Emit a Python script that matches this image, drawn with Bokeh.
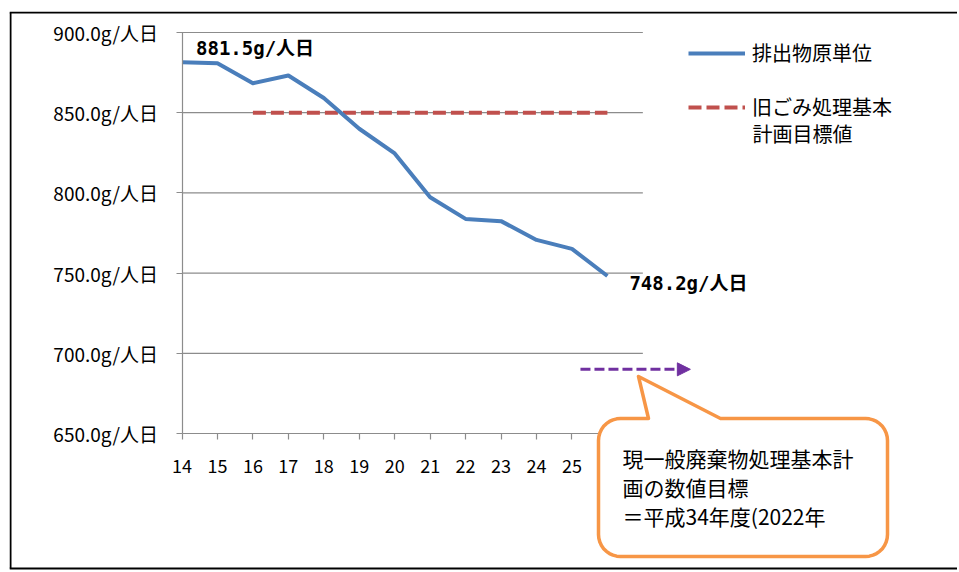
import numpy as np
from bokeh.plotting import figure
from bokeh.models import (Range1d, FixedTicker, Legend, LegendItem, Arrow, NormalHead, LinearAxis)
from bokeh.core.properties import value
from bokeh.embed import file_html
from bokeh.resources import INLINE

# ---------------- data ----------------
years = [14, 15, 16, 17, 18, 19, 20, 21, 22, 23, 24, 25, 26]
emission = [881.5, 880.9, 868.4, 873.2, 859.2, 840.0, 824.6, 797.3, 783.8, 782.4, 770.7, 765.1, 748.2]
target_years = [16, 26]
target_value = [850.0, 850.0]
x_ticks = [14, 15, 16, 17, 18, 19, 20, 21, 22, 23, 24, 25, 26, 27]
x_tick_labels = ["14", "15", "16", "17", "18", "19", "20", "21", "22", "23", "24", "25", "26", ""]
y_ticks = [650, 700, 750, 800, 850, 900]
y_tick_labels = ["650.0g/人日", "700.0g/人日", "750.0g/人日", "800.0g/人日", "850.0g/人日", "900.0g/人日"]
series_names = ["排出物原単位", "旧ごみ処理基本", "計画目標値"]
new_goal_value = 690.0
new_goal_years = [25.24, 28.34]
callout_lines = ["現一般廃棄物処理基本計", "画の数値目標", "＝平成34年度(2022年"]

# ---------------- geometry (page pixels) ----------------
OX, OY = 9, 11             # canvas origin on page (css margins)
W, H = 948, 559
KX = 35.45                 # px per year
KY = 80.2 / 50.0           # px per g
X0_PAGE = 181.5            # page x of year 14
Y900_PAGE = 32.0           # page y of 900

def dx(px):
    return 14 + (px - X0_PAGE) / KX

def dy(py):
    return 900 - (py - Y900_PAGE) / KY

FONT = "Noto Sans CJK JP"
GRID = "#8c8c8c"
BLUE = "#4a7ebb"
RED = "#c0504d"
PURPLE = "#7030a0"
ORANGE = "#f79646"

p = figure(width=W, height=H, output_backend="svg", toolbar_location=None,
           x_range=Range1d(dx(OX), dx(OX + W)), y_range=Range1d(dy(OY + H), dy(OY)),
           min_border=0, x_axis_location=None, y_axis_location=None,
           outline_line_color=None,
           styles={"margin-left": f"{OX}px", "margin-top": f"{OY}px"})
p.xgrid.visible = False
p.ygrid.visible = False

# chart-area border (left, top, bottom)
p.segment(x0=[dx(10), dx(9), dx(9)], y0=[dy(12), dy(12), dy(568)],
          x1=[dx(10), dx(OX + W), dx(OX + W)], y1=[dy(568), dy(12), dy(568)],
          line_color="black", line_width=2)

# axes drawn at the plot-area edges
xax = LinearAxis(fixed_location=y_ticks[0], bounds=(x_ticks[0], x_ticks[-1]),
                 ticker=FixedTicker(ticks=x_ticks),
                 major_label_overrides={t: l for t, l in zip(x_ticks, x_tick_labels)})
yax = LinearAxis(fixed_location=x_ticks[0], bounds=(y_ticks[0], y_ticks[-1]),
                 ticker=FixedTicker(ticks=y_ticks),
                 major_label_overrides={t: l for t, l in zip(y_ticks, y_tick_labels)})
for ax, standoff, fs in ((xax, 19, "18px"), (yax, 18, "19px")):
    ax.axis_line_color = GRID
    ax.axis_line_width = 1.2
    ax.major_tick_line_color = GRID
    ax.major_tick_line_width = 1.2
    ax.major_tick_out = 6
    ax.major_tick_in = 0
    ax.minor_tick_line_color = None
    ax.major_label_standoff = standoff
    ax.major_label_text_font = FONT
    ax.major_label_text_font_size = fs
    ax.major_label_text_color = "#000000"
p.add_layout(xax, "below")
p.add_layout(yax, "left")

# gridlines (only across plot area)
grid_vals = y_ticks[1:]
p.segment(x0=[x_ticks[0]] * len(grid_vals), y0=grid_vals, x1=[x_ticks[-1]] * len(grid_vals), y1=grid_vals,
          line_color=GRID, line_width=1.2, level="underlay")

# series
r_target = p.line(target_years, target_value, line_color=RED, line_width=4, line_dash="13 5")
r_main = p.line(years, emission, line_color=BLUE, line_width=4, line_join="round")

# data labels
lab_font = value("DejaVu Sans Mono, Noto Sans CJK JP")
p.text(x=[years[0]], y=[emission[0]], text=[f"{emission[0]:.1f}g/人日"], x_offset=14, y_offset=-14,
       text_align="left", text_baseline="middle", text_font=lab_font, text_font_style="bold",
       text_font_size="19px", text_color="#000000")
p.text(x=[years[-1]], y=[emission[-1]], text=[f"{emission[-1]:.1f}g/人日"], x_offset=22, y_offset=7,
       text_align="left", text_baseline="middle", text_font=lab_font, text_font_style="bold",
       text_font_size="19px", text_color="#000000")

# legend
legend = Legend(items=[LegendItem(label=series_names[0], renderers=[r_main]),
                       LegendItem(label=series_names[1], renderers=[r_target])],
                location=(688 - OX, (OY + H) - 121),
                glyph_width=57, glyph_height=20, label_height=20, spacing=25,
                padding=0, margin=0, label_standoff=7,
                border_line_color=None, background_fill_alpha=0,
                label_text_font=FONT, label_text_font_size="20px", label_text_color="#000000")
p.add_layout(legend, "center")
p.text(x=[dx(752)], y=[dy(133)], text=[series_names[2]], text_align="left", text_baseline="middle",
       text_font=value(FONT), text_font_size="20px", text_color="#000000")

# new goal arrow
p.add_layout(Arrow(x_start=new_goal_years[0], y_start=new_goal_value,
                   x_end=new_goal_years[1], y_end=new_goal_value,
                   line_color=PURPLE, line_width=3, line_dash="10 4",
                   end=NormalHead(size=13, fill_color=PURPLE, line_color=PURPLE, line_width=1)))

# callout (rounded box with tail)
L, R, T, B, RAD = 598, 887, 418, 556, 22
tip = (638, 376)
base_l, base_r = 648, 720
def arc(cx, cy, a0, a1, n=10):
    a = np.linspace(a0, a1, n)
    return list(cx + RAD * np.cos(a)), list(cy + RAD * np.sin(a))
pxs, pys = [], []
def add(xs, ys):
    pxs.extend(xs); pys.extend(ys)
add([L + RAD, base_l, tip[0], base_r, R - RAD], [T, T, tip[1], T, T])
add(*arc(R - RAD, T + RAD, -np.pi / 2, 0))
add(*arc(R - RAD, B - RAD, 0, np.pi / 2))
add(*arc(L + RAD, B - RAD, np.pi / 2, np.pi))
add(*arc(L + RAD, T + RAD, np.pi, 1.5 * np.pi))
p.patch([dx(v) for v in pxs], [dy(v) for v in pys], fill_color="white", line_color=ORANGE,
        line_width=3.5, line_join="round", level="overlay")
p.text(x=[dx(622)] * 3, y=[dy(457)] * 3, text=callout_lines, y_offset=[0, 29, 58],
       text_align="left", text_baseline="middle", text_font=value(FONT),
       text_font_size="21px", text_color="#000000", level="overlay")

open("out.html", "w").write(file_html(p, INLINE))
